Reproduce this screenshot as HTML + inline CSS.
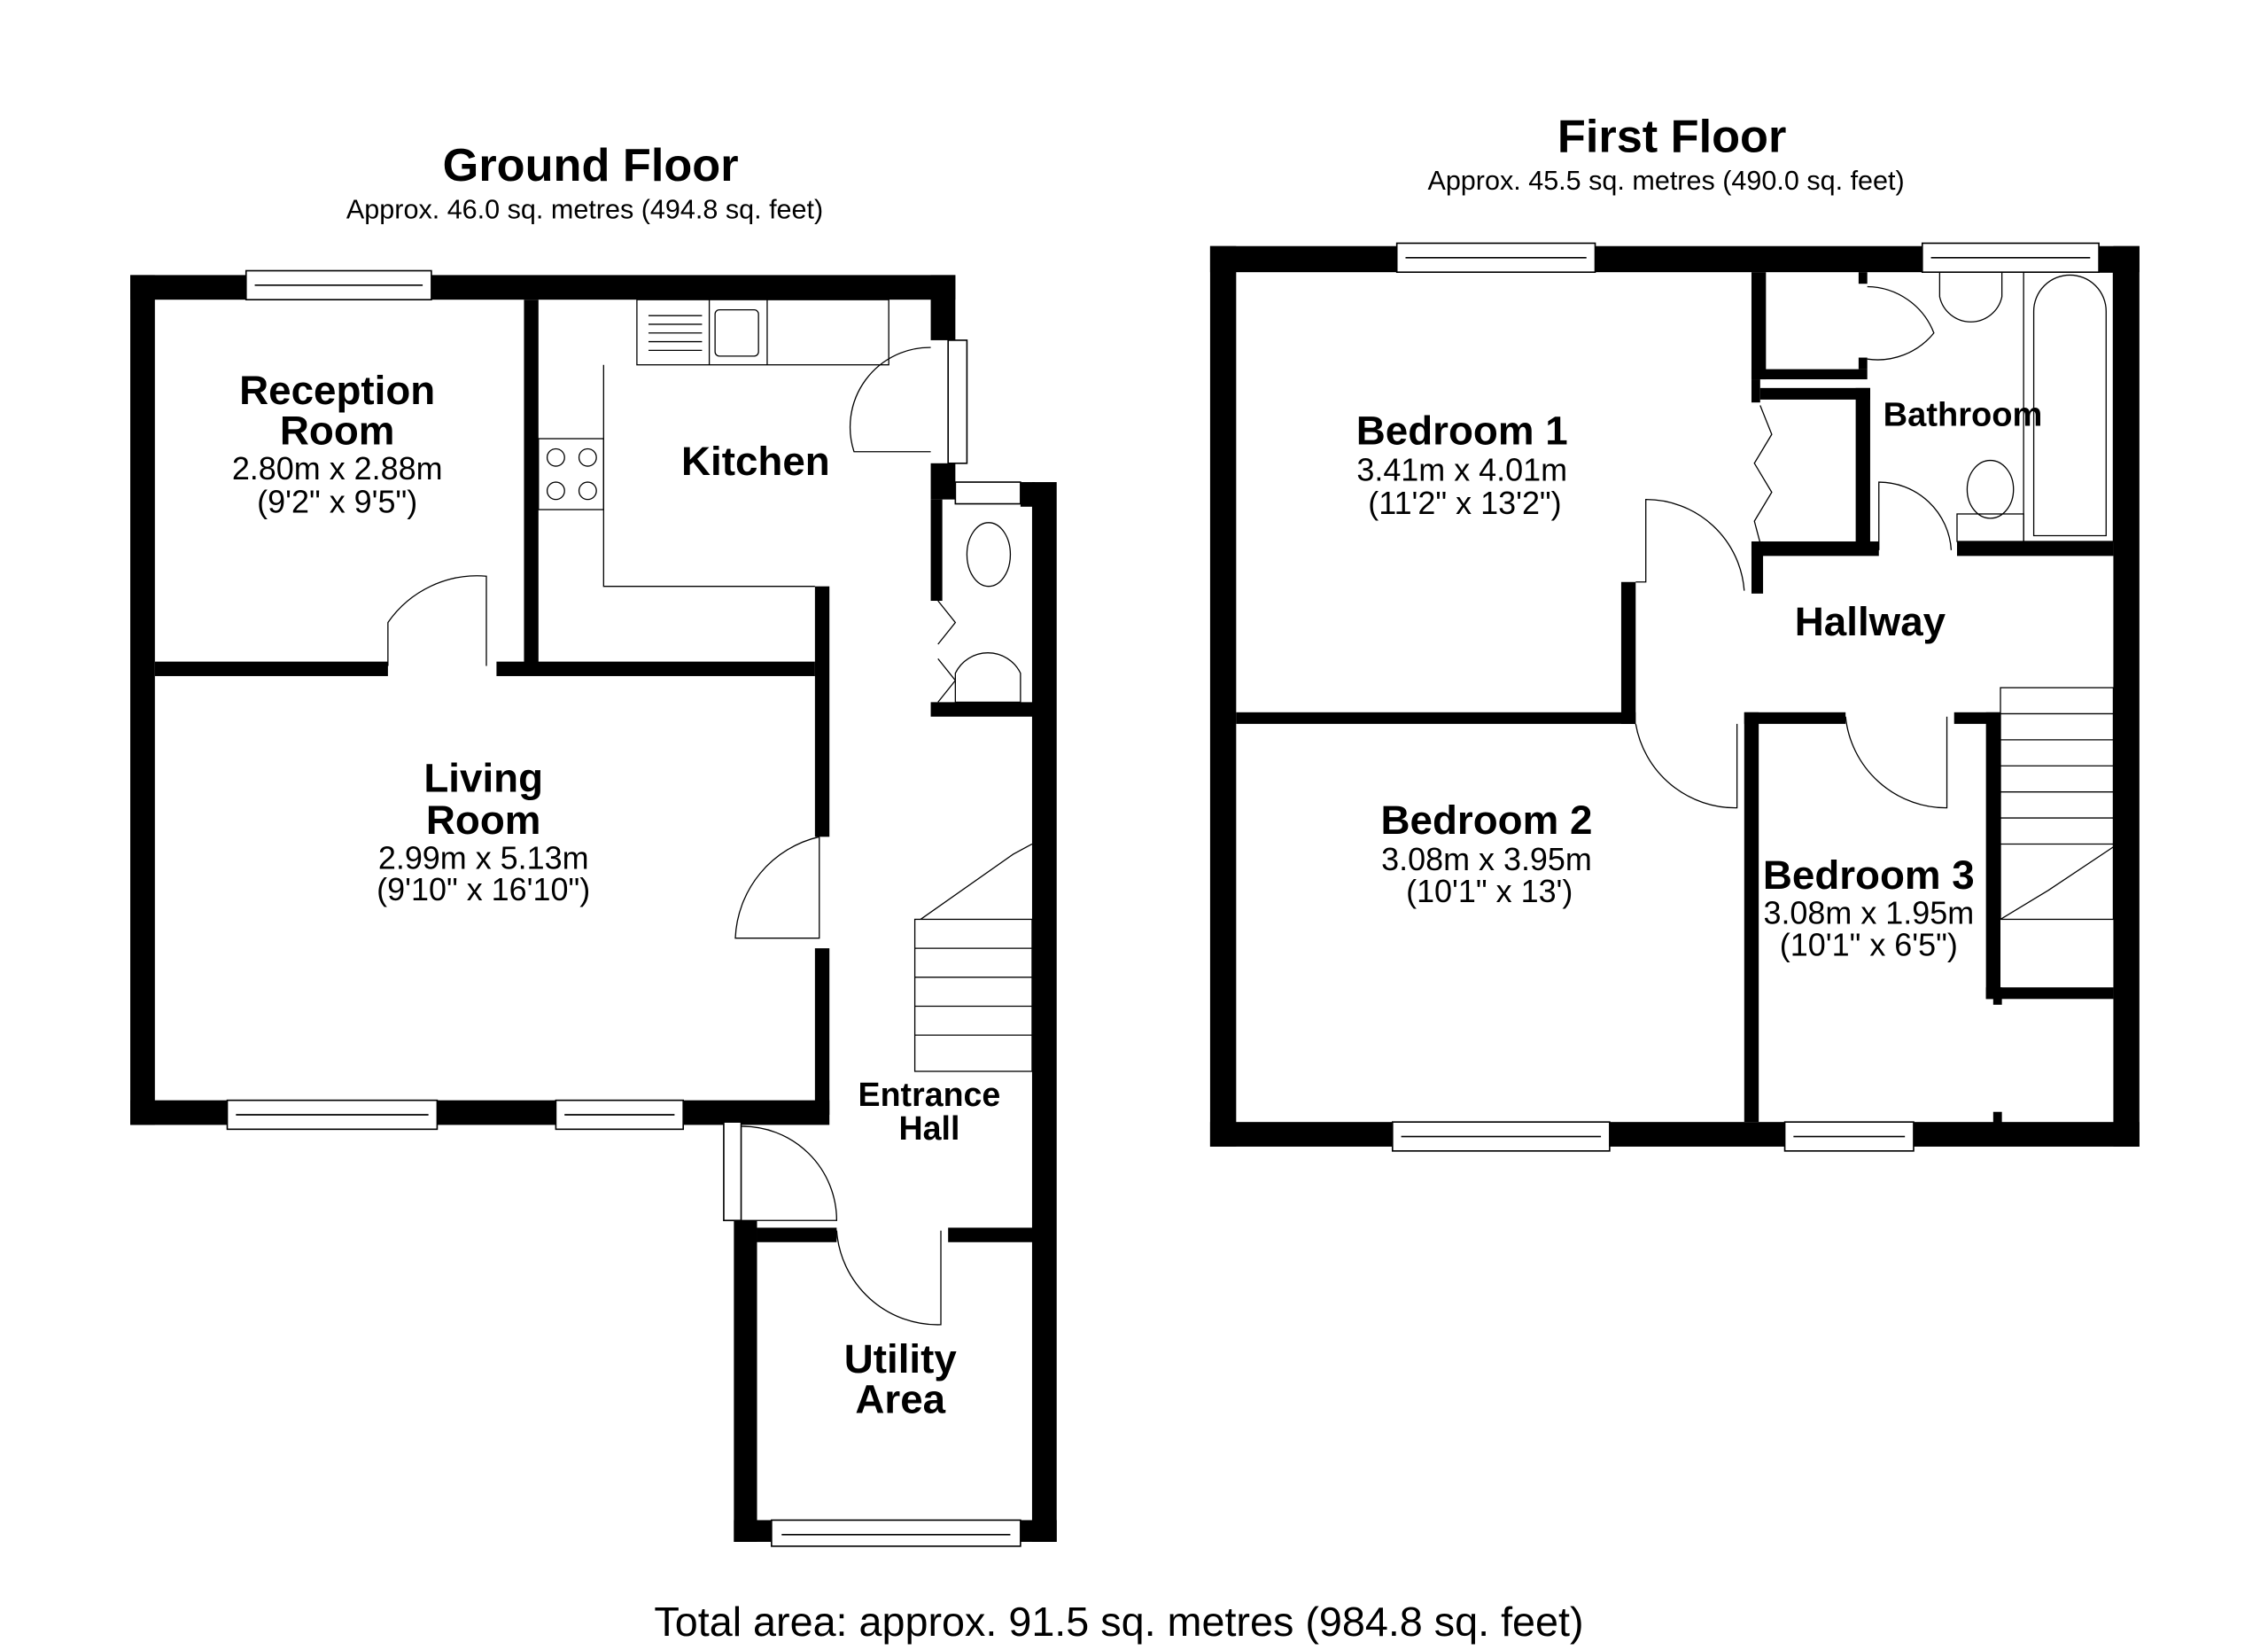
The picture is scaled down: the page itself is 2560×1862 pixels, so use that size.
<!DOCTYPE html>
<html><head><meta charset="utf-8"><style>
html,body{margin:0;padding:0;background:#fff;}
svg{display:block;}
text{font-family:"Liberation Sans",Arial,sans-serif;fill:#000;text-anchor:middle;}
.b{font-weight:bold;font-size:28px;}
.d{font-size:22px;}
.t{font-weight:bold;font-size:32px;}
.s{font-size:18.7px;}
</style></head><body>
<svg width="2560" height="1862" viewBox="0 0 1559 1134" preserveAspectRatio="none" xmlns="http://www.w3.org/2000/svg">
<rect width="1559" height="1134" fill="#fff"/>
<g transform="scale(0.995)">
<g fill="#000">
<rect x="90" y="190" width="570" height="17"/>
<rect x="90" y="190" width="17" height="587"/>
<rect x="90" y="760" width="483" height="17"/>
<rect x="563" y="405" width="10" height="173"/>
<rect x="563" y="655" width="10" height="115"/>
<rect x="500" y="768" width="20" height="8"/>
<rect x="362" y="207" width="10" height="253"/>
<rect x="107" y="457" width="161" height="10"/>
<rect x="343" y="457" width="220" height="10"/>
<rect x="643" y="190" width="17" height="45"/>
<rect x="643" y="320" width="17" height="25"/>
<rect x="643" y="345" width="8" height="70"/>
<rect x="643" y="485" width="75" height="10"/>
<rect x="713" y="333" width="17" height="732"/>
<rect x="705" y="333" width="10" height="17"/>
<rect x="507" y="843" width="16" height="222"/>
<rect x="523" y="848" width="55" height="10"/>
<rect x="655" y="848" width="60" height="10"/>
<rect x="507" y="1050" width="223" height="15"/>
<rect x="836" y="170" width="642" height="18"/>
<rect x="836" y="170" width="18" height="622"/>
<rect x="836" y="775" width="642" height="17"/>
<rect x="1460" y="170" width="18" height="622"/>
<rect x="854" y="492" width="276" height="8"/>
<rect x="1120" y="402" width="10" height="98"/>
<rect x="1210" y="188" width="10" height="74"/>
<rect x="1210" y="255" width="80" height="7"/>
<rect x="1210" y="262" width="6" height="16"/>
<rect x="1216" y="268" width="76" height="8"/>
<rect x="1282" y="268" width="10" height="112"/>
<rect x="1210" y="374" width="88" height="10"/>
<rect x="1210" y="374" width="8" height="36"/>
<rect x="1352" y="374" width="108" height="10"/>
<rect x="1205" y="492" width="10" height="283"/>
<rect x="1205" y="492" width="70" height="8"/>
<rect x="1350" y="492" width="32" height="8"/>
<rect x="1372" y="492" width="10" height="198"/>
<rect x="1372" y="682" width="88" height="8"/>
<rect x="1284" y="188" width="6" height="8"/>
<rect x="1284" y="247" width="6" height="8"/>
</g>
<g fill="#fff" stroke="#000" stroke-width="1">
<rect x="170" y="187" width="128" height="20"/><line x1="176" y1="197" x2="292" y2="197"/>
<rect x="157" y="760" width="145" height="20"/><line x1="163" y1="770" x2="296" y2="770"/>
<rect x="384" y="760" width="88" height="20"/><line x1="390" y1="770" x2="466" y2="770"/>
<rect x="655" y="235" width="13" height="85"/>
<rect x="660" y="333" width="45" height="15"/>
<rect x="500" y="775" width="12" height="68"/>
<rect x="533" y="1050" width="172" height="18"/><line x1="540" y1="1060" x2="698" y2="1060"/>
<rect x="965" y="168" width="137" height="20"/><line x1="971" y1="178" x2="1096" y2="178"/>
<rect x="1328" y="168" width="122" height="20"/><line x1="1334" y1="178" x2="1444" y2="178"/>
<rect x="962" y="775" width="150" height="20"/><line x1="968" y1="785" x2="1106" y2="785"/>
<rect x="1233" y="775" width="89" height="20"/><line x1="1239" y1="785" x2="1316" y2="785"/>
</g>
<g fill="none" stroke="#000" stroke-width="0.8">
<rect x="440" y="207" width="174" height="45"/>
<line x1="490" y1="207" x2="490" y2="252"/>
<line x1="530" y1="207" x2="530" y2="252"/>
<rect x="494" y="214" width="30" height="32" rx="3"/>
<line x1="448" y1="218" x2="485" y2="218"/><line x1="448" y1="224" x2="485" y2="224"/><line x1="448" y1="230" x2="485" y2="230"/><line x1="448" y1="236" x2="485" y2="236"/><line x1="448" y1="242" x2="485" y2="242"/>
<polyline points="417,252 417,405 563,405"/>
<rect x="372" y="303" width="45" height="49"/>
<circle cx="384" cy="316" r="6"/><circle cx="406" cy="316" r="6"/><circle cx="384" cy="339" r="6"/><circle cx="406" cy="339" r="6"/>
<path d="M268 460 L268 430 A75 75 0 0 1 336 398 L336 460"/>
<path d="M643 312 L590 312 A55 55 0 0 1 643 240"/>
<path d="M566 578 L566 648 L508 648 A75 75 0 0 1 566 578"/>
<path d="M512 778 A65 65 0 0 1 578 843 L512 843"/>
<path d="M578 850 A70 70 0 0 0 650 915 L650 850"/>
<polyline points="648,415 660,430 648,445"/><polyline points="648,455 660,470 648,485"/>
<ellipse cx="683" cy="383" rx="15" ry="22"/>
<path d="M660 465 A25 25 0 0 1 705 465 L705 485 L660 485 Z"/>
<rect x="632" y="635" width="81" height="105"/>
<line x1="632" y1="655" x2="713" y2="655"/><line x1="632" y1="675" x2="713" y2="675"/><line x1="632" y1="695" x2="713" y2="695"/><line x1="632" y1="715" x2="713" y2="715"/>
<polyline points="636,635 700,590 713,583"/>
<path d="M1130 402 L1137 402 L1137 345 A68 68 0 0 1 1205 408"/>
<path d="M1130 500 A70 70 0 0 0 1200 558 L1200 500"/>
<path d="M1275 495 A70 70 0 0 0 1345 558 L1345 495"/>
<path d="M1298 380 L1298 333 A50 50 0 0 1 1348 380"/>
<path d="M1290 198 A50 50 0 0 1 1336 230 A50 50 0 0 1 1290 248"/>
<polyline points="1216,280 1224,300 1212,320 1224,340 1212,360 1216,375"/>
<path d="M1340 188 L1340 205 A22 22 0 0 0 1383 205 L1383 188"/>
<rect x="1398" y="188" width="62" height="186"/>
<path d="M1405 370 L1405 215 A25 25 0 0 1 1455 215 L1455 370 Z"/>
<ellipse cx="1375" cy="338" rx="16" ry="20"/>
<rect x="1352" y="355" width="46" height="19"/>
<rect x="1382" y="475" width="78" height="160"/>
<line x1="1382" y1="493" x2="1460" y2="493"/><line x1="1382" y1="511" x2="1460" y2="511"/><line x1="1382" y1="529" x2="1460" y2="529"/><line x1="1382" y1="547" x2="1460" y2="547"/><line x1="1382" y1="565" x2="1460" y2="565"/><line x1="1382" y1="583" x2="1460" y2="583"/>
<polyline points="1382,635 1415,615 1460,585"/>
</g>
<g fill="#000"><rect x="1377" y="682" width="6" height="12"/><rect x="1377" y="768" width="6" height="8"/></g>
<text class="t" x="408" y="125">Ground Floor</text>
<text class="s" x="404" y="151">Approx. 46.0 sq. metres (494.8 sq. feet)</text>
<text class="t" x="1155" y="105">First Floor</text>
<text class="s" x="1151" y="131">Approx. 45.5 sq. metres (490.0 sq. feet)</text>
<text class="b" x="233" y="279">Reception</text>
<text class="b" x="233" y="307">Room</text>
<text class="d" x="233" y="331">2.80m x 2.88m</text>
<text class="d" x="233" y="354">(9'2" x 9'5")</text>
<text class="b" x="522" y="328">Kitchen</text>
<text class="b" x="334" y="547">Living</text>
<text class="b" x="334" y="576">Room</text>
<text class="d" x="334" y="600">2.99m x 5.13m</text>
<text class="d" x="334" y="622">(9'10" x 16'10")</text>
<text class="b" x="642" y="764" style="font-size:23px">Entrance</text>
<text class="b" x="642" y="787" style="font-size:23px">Hall</text>
<text class="b" x="622" y="948">Utility</text>
<text class="b" x="622" y="976">Area</text>
<text class="b" x="1010" y="307">Bedroom 1</text>
<text class="d" x="1010" y="332">3.41m x 4.01m</text>
<text class="d" x="1012" y="355">(11'2" x 13'2")</text>
<text class="b" x="1356" y="294" style="font-size:23.3px">Bathroom</text>
<text class="b" x="1292" y="439">Hallway</text>
<text class="b" x="1027" y="576">Bedroom 2</text>
<text class="d" x="1027" y="601">3.08m x 3.95m</text>
<text class="d" x="1029" y="623">(10'1" x 13')</text>
<text class="b" x="1291" y="614">Bedroom 3</text>
<text class="d" x="1291" y="638">3.08m x 1.95m</text>
<text class="d" x="1291" y="660">(10'1" x 6'5")</text>
<text x="773" y="1130" style="font-size:28.6px">Total area: approx. 91.5 sq. metres (984.8 sq. feet)</text>
</g>
</svg>
</body></html>
